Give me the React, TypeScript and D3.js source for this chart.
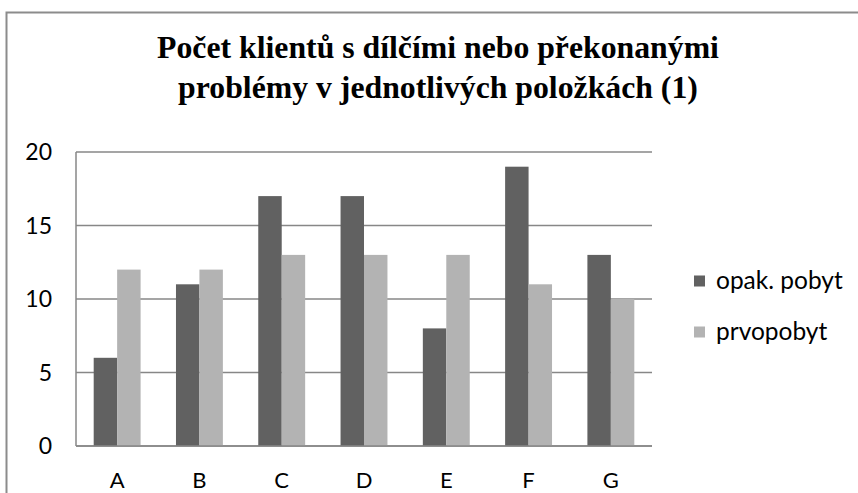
import * as d3 from 'd3';
import React, { useLayoutEffect, useRef, useState } from 'react';

const categories = ['A', 'B', 'C', 'D', 'E', 'F', 'G'];
const opakPobyt = [6, 11, 17, 17, 8, 19, 13];
const prvopobyt = [12, 12, 13, 13, 13, 11, 10];
const seriesNames = ['opak. pobyt', 'prvopobyt'];
const yTicks = [0, 5, 10, 15, 20];
const titleLines = ['Počet klientů s dílčími nebo překonanými', 'problémy v jednotlivých položkách (1)'];

const W = 858;
const H = 493;
const plot = { left: 76, right: 652, top: 152, bottom: 446 };
const colors = ['#616161', '#b3b3b3'];
const grid = '#878787';
const sans = 'Lato, "Open Sans", sans-serif';

export default function App() {
  const titleRef = useRef<SVGTextElement>(null);
  const [titleSize, setTitleSize] = useState(25);

  // fit title font so line 1 is ~562px wide
  useLayoutEffect(() => {
    if (!titleRef.current) return;
    const w = titleRef.current.getComputedTextLength();
    if (w > 0 && Math.abs(w - 562) > 2) setTitleSize(s => s * 562 / w);
  }, [titleSize]);

  const x = d3.scaleBand().domain(categories).range([plot.left, plot.right]).paddingInner(0.43).paddingOuter(0.215);
  const x1 = d3.scaleBand().domain(seriesNames).range([0, x.bandwidth()]);
  const y = d3.scaleLinear().domain([0, 20]).range([plot.bottom, plot.top]);
  const series = [opakPobyt, prvopobyt];

  return (
    <svg width={W} height={H} style={{ position: 'absolute', left: 0, top: 0, background: '#fff' }}>
      <rect x={6.5} y={12.5} width={W + 10} height={H + 10} fill="#fff" stroke="#8c8c8c" strokeWidth={2} />

      {titleLines.map((t, i) => (
        <text key={i} ref={i === 0 ? titleRef : undefined} x={438} y={58 + i * 40} textAnchor="middle"
          fontFamily='"Liberation Serif", "Times New Roman", serif' fontWeight="bold" fontSize={titleSize}>{t}</text>
      ))}

      {yTicks.map(t => (
        <g key={t}>
          <line x1={plot.left} x2={plot.right} y1={y(t)} y2={y(t)} stroke={grid} strokeWidth={1.5} />
          <text x={52} y={y(t) + 8} textAnchor="end" fontFamily={sans} fontSize={23} fill="#000">{t}</text>
        </g>
      ))}
      <line x1={plot.left} x2={plot.left} y1={plot.top} y2={plot.bottom} stroke={grid} strokeWidth={1.5} />

      {series.map((vals, si) => vals.map((v, ci) => (
        <rect key={si + '-' + ci} x={(x(categories[ci]) as number) + (x1(seriesNames[si]) as number)} y={y(v)}
          width={x1.bandwidth()} height={y(0) - y(v)} fill={colors[si]} />
      )))}
      <line x1={plot.left} x2={plot.right} y1={y(0)} y2={y(0)} stroke={grid} strokeWidth={1.5} />

      {categories.map(c => (
        <text key={c} x={(x(c) as number) + x.bandwidth() / 2} y={488} textAnchor="middle" fontFamily={sans} fontSize={22}>{c}</text>
      ))}

      {seriesNames.map((s, i) => (
        <g key={s} transform={`translate(694, ${281 + i * 51})`}>
          <rect x={0} y={-5.5} width={11} height={11} fill={colors[i]} />
          <text x={22} y={7.5} fontFamily={sans} fontSize={24.5}>{s}</text>
        </g>
      ))}
    </svg>
  );
}
